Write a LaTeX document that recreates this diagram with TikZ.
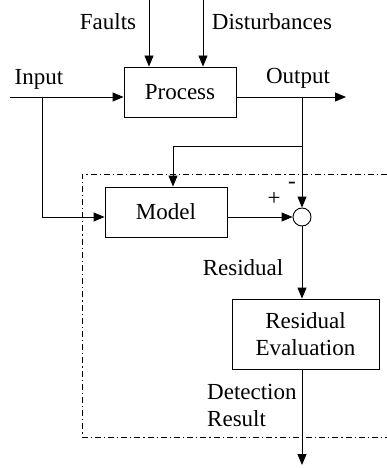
\documentclass[tikz,border=0pt]{standalone}
\usepackage{fontspec}
\setmainfont{Liberation Serif}
\usetikzlibrary{arrows.meta,positioning,calc}

\tikzset{
  blockbox/.style={draw,line width=0.9pt,align=center,inner sep=2pt},
  sumnode/.style={draw,circle,line width=0.9pt,minimum size=18pt,inner sep=0pt},
  sig/.style={line width=0.9pt,-{Triangle[length=11pt,width=9pt]}},
  wire/.style={line width=0.9pt},
  lbl/.style={inner sep=0pt},
  region/.style={line width=0.7pt,dash pattern=on 6pt off 3pt on 1.2pt off 3pt}
}

\begin{document}
\begin{tikzpicture}[x=1pt,y=-1pt,font=\fontsize{23}{27}\selectfont]
  \useasboundingbox (0,0) rectangle (387,468);

  % blocks
  \node[blockbox,minimum width=112pt,minimum height=50pt] (process) at (180,92) {Process};
  \node[blockbox,minimum width=122pt,minimum height=50pt] (model) at (166,212) {Model};
  \node[sumnode] (sum) at (302,217) {};
  \node[blockbox,minimum width=147pt,minimum height=70pt] (eval) at (305.5,334)
       {Residual\\Evaluation};

  % signal points
  \coordinate (fault) at (149,0);
  \coordinate (dist) at (203,0);
  \coordinate (in) at (10,97);
  \coordinate (inbr) at (42,97);
  \coordinate (out) at (346,97);
  \coordinate (outbr) at (302,97);
  \coordinate (fb) at (302,146);
  \coordinate (fbl) at (173,146);
  \coordinate (det) at (302,465);

  % detection area
  \draw[region] (387,174) -- (82,174) -- (82,437) -- (387,437);

  % signals
  \draw[sig] (fault) -- (fault |- process.north);
  \draw[sig] (dist) -- (dist |- process.north);
  \draw[sig] (in) -- (in -| process.west);
  \draw[sig] (process.east |- in) -- (out);
  \draw[sig] (inbr) |- (model.west |- sum);
  \draw[sig] (outbr) -- (sum.north);
  \draw[sig] (fb) -- (fbl) -- (fbl |- model.north);
  \draw[sig] (model.east |- sum) -- (sum.west);
  \draw[sig] (sum.south) -- (sum |- eval.north);
  \draw[sig] (sum |- eval.south) -- (det);

  % labels
  \node[lbl] (faultlbl) at (108,22) {Faults};
  \node[lbl] (distlbl) at (272,22) {Disturbances};
  \node[lbl] (inlbl) at (39,79) {Input};
  \node[lbl] (outlbl) at (298,78) {Output};
  \node[lbl] (plus) at (274,199) {+};
  \node[lbl] (minus) at (292,185) {-};
  \node[lbl] (reslbl) at (243,268) {Residual};
  \node[lbl,anchor=west,align=left] (detlbl) at (207,405) {Detection\\Result};
\end{tikzpicture}
\end{document}
